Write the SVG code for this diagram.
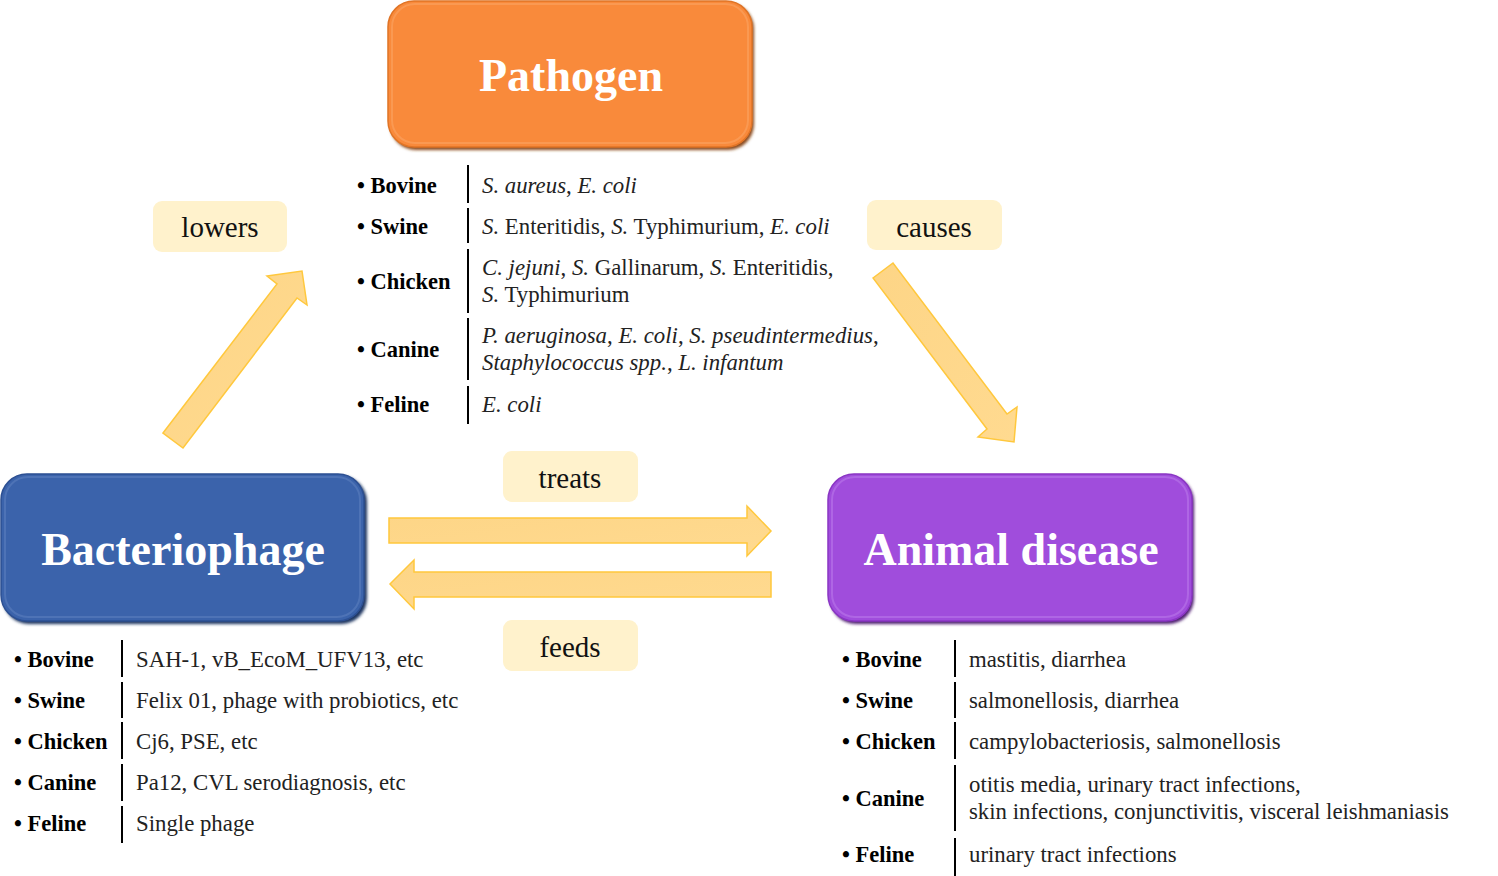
<svg xmlns="http://www.w3.org/2000/svg" width="1498" height="876" viewBox="0 0 1498 876">
<style>
.lbl{font-family:"Liberation Serif","Times New Roman",serif;font-size:29px;fill:#111;text-anchor:middle}
.title{font-family:"Liberation Serif","Times New Roman",serif;font-size:46px;font-weight:bold;fill:#fff;text-anchor:middle}
.k{font-family:"Liberation Serif","Times New Roman",serif;font-size:22.5px;font-weight:bold;fill:#000}
.v{font-family:"Liberation Serif","Times New Roman",serif;font-size:22.8px;fill:#222}
.i{font-style:italic}
.sep{stroke:#000;stroke-width:2}
.lblbox{fill:#FFF2CC}
.arrow{fill:url(#ag);stroke:#FFC83D;stroke-width:1.5;stroke-linejoin:miter}
</style>
<defs>
<linearGradient id="ag" x1="0" y1="0" x2="1" y2="1">
<stop offset="0" stop-color="#FDD586"/>
<stop offset="1" stop-color="#FFDA90"/>
</linearGradient>
<filter id="sh" x="-5%" y="-5%" width="110%" height="115%">
<feGaussianBlur stdDeviation="1.5"/>
</filter>
</defs>

<g id="connectors">
<polygon class="arrow" points="389,518 747,518 747,506 771,531 747,556 747,543 389,543"/>
<polygon class="arrow" points="771,572 414,572 414,560 390,584 414,609 414,597 771,597"/>
<polygon class="arrow" points="163,433 277,284 267,276 302,271 307,305 297,298 183,448"/>
<polygon class="arrow" points="873,278 893,263 1007,414 1017,407 1014,442 978,437 987,429"/>
</g>

<g id="label-lowers"><rect class="lblbox" x="153" y="201" width="134" height="51" rx="9"/><text class="lbl" x="220" y="237">lowers</text></g>
<g id="label-causes"><rect class="lblbox" x="867" y="200" width="135" height="50" rx="9"/><text class="lbl" x="934" y="237">causes</text></g>
<g id="label-treats"><rect class="lblbox" x="503" y="451" width="135" height="51" rx="9"/><text class="lbl" x="570" y="488">treats</text></g>
<g id="label-feeds"><rect class="lblbox" x="503" y="620" width="135" height="51" rx="9"/><text class="lbl" x="570" y="657">feeds</text></g>

<g id="node-pathogen">
<rect x="390" y="3" width="364" height="147" rx="26" fill="#8a4a1a" filter="url(#sh)"/>
<rect x="388" y="1" width="364" height="146" rx="26" fill="#F98A3B" stroke="#E07426" stroke-width="1.5"/>
<rect x="392" y="4" width="356" height="139" rx="23" fill="none" stroke="#FBA76A" stroke-width="2" opacity="0.5"/>
<text class="title" x="571" y="91">Pathogen</text>
</g>

<g id="node-bacteriophage">
<rect x="3" y="476" width="364" height="148" rx="26" fill="#1e3560" filter="url(#sh)"/>
<rect x="1" y="474" width="363" height="147" rx="26" fill="#3B63AB" stroke="#2D5093" stroke-width="1.5"/>
<rect x="5" y="477" width="355" height="140" rx="23" fill="none" stroke="#6688C4" stroke-width="2" opacity="0.45"/>
<text class="title" x="183" y="565">Bacteriophage</text>
</g>

<g id="node-animal-disease">
<rect x="830" y="476" width="364" height="148" rx="26" fill="#4d1f70" filter="url(#sh)"/>
<rect x="828" y="474" width="364" height="147" rx="26" fill="#A04DDC" stroke="#8A36C4" stroke-width="1.5"/>
<rect x="832" y="477" width="356" height="140" rx="23" fill="none" stroke="#C084EE" stroke-width="2" opacity="0.45"/>
<text class="title" x="1011" y="565">Animal disease</text>
</g>

<g id="table-pathogen">
<text class="k" x="357" y="193">• Bovine</text>
<text class="k" x="357" y="234">• Swine</text>
<text class="k" x="357" y="289">• Chicken</text>
<text class="k" x="357" y="357">• Canine</text>
<text class="k" x="357" y="412">• Feline</text>
<line class="sep" x1="468" y1="165" x2="468" y2="203"/>
<line class="sep" x1="468" y1="208" x2="468" y2="243"/>
<line class="sep" x1="468" y1="249" x2="468" y2="313"/>
<line class="sep" x1="468" y1="318" x2="468" y2="380"/>
<line class="sep" x1="468" y1="386" x2="468" y2="424"/>
<text class="v" x="482" y="193"><tspan class="i">S. aureus</tspan>, <tspan class="i">E. coli</tspan></text>
<text class="v" x="482" y="234"><tspan class="i">S.</tspan> Enteritidis, <tspan class="i">S.</tspan> Typhimurium, <tspan class="i">E. coli</tspan></text>
<text class="v" x="482" y="275"><tspan class="i">C. jejuni</tspan>, <tspan class="i">S.</tspan> Gallinarum, <tspan class="i">S.</tspan> Enteritidis,</text>
<text class="v" x="482" y="302"><tspan class="i">S.</tspan> Typhimurium</text>
<text class="v" x="482" y="343"><tspan class="i">P. aeruginosa</tspan>, <tspan class="i">E. coli</tspan>, <tspan class="i">S. pseudintermedius</tspan>,</text>
<text class="v" x="482" y="370"><tspan class="i">Staphylococcus spp.</tspan>, <tspan class="i">L. infantum</tspan></text>
<text class="v" x="482" y="412"><tspan class="i">E. coli</tspan></text>
</g>

<g id="table-bacteriophage">
<text class="k" x="14" y="667">• Bovine</text>
<text class="k" x="14" y="708">• Swine</text>
<text class="k" x="14" y="749">• Chicken</text>
<text class="k" x="14" y="790">• Canine</text>
<text class="k" x="14" y="831">• Feline</text>
<line class="sep" x1="122" y1="640" x2="122" y2="677"/>
<line class="sep" x1="122" y1="682" x2="122" y2="718"/>
<line class="sep" x1="122" y1="722" x2="122" y2="759"/>
<line class="sep" x1="122" y1="764" x2="122" y2="801"/>
<line class="sep" x1="122" y1="806" x2="122" y2="843"/>
<text class="v" x="136" y="667">SAH-1, vB_EcoM_UFV13, etc</text>
<text class="v" x="136" y="708">Felix 01, phage with probiotics, etc</text>
<text class="v" x="136" y="749">Cj6, PSE, etc</text>
<text class="v" x="136" y="790">Pa12, CVL serodiagnosis, etc</text>
<text class="v" x="136" y="831">Single phage</text>
</g>

<g id="table-animal-disease">
<text class="k" x="842" y="667">• Bovine</text>
<text class="k" x="842" y="708">• Swine</text>
<text class="k" x="842" y="749">• Chicken</text>
<text class="k" x="842" y="806">• Canine</text>
<text class="k" x="842" y="862">• Feline</text>
<line class="sep" x1="955" y1="640" x2="955" y2="677"/>
<line class="sep" x1="955" y1="682" x2="955" y2="718"/>
<line class="sep" x1="955" y1="722" x2="955" y2="759"/>
<line class="sep" x1="955" y1="765" x2="955" y2="831"/>
<line class="sep" x1="955" y1="838" x2="955" y2="876"/>
<text class="v" x="969" y="667">mastitis, diarrhea</text>
<text class="v" x="969" y="708">salmonellosis, diarrhea</text>
<text class="v" x="969" y="749">campylobacteriosis, salmonellosis</text>
<text class="v" x="969" y="792">otitis media, urinary tract infections,</text>
<text class="v" x="969" y="819">skin infections, conjunctivitis, visceral leishmaniasis</text>
<text class="v" x="969" y="862">urinary tract infections</text>
</g>
</svg>
